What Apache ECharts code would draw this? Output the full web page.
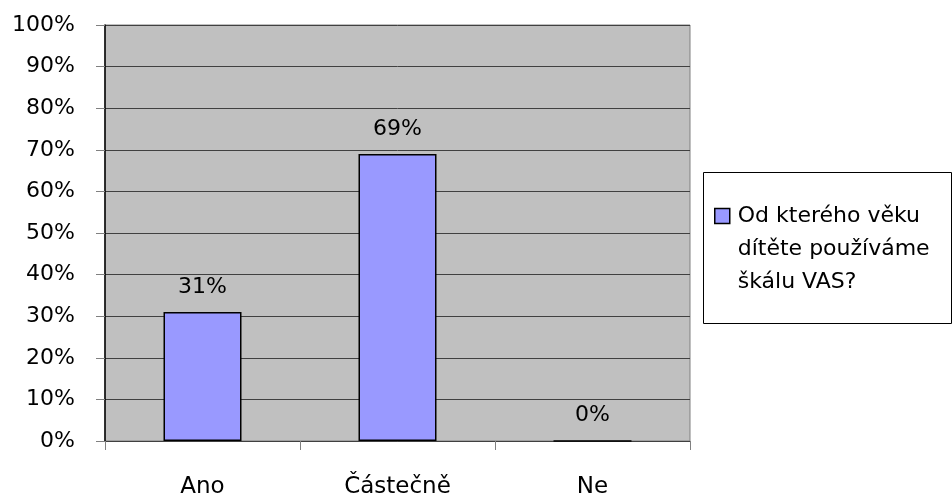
<!DOCTYPE html>
<html>
<head>
<meta charset="utf-8">
<script src="https://cdn.jsdelivr.net/npm/echarts@6/dist/echarts.min.js"></script>
<style>
  html, body { margin: 0; padding: 0; background: #fff; }
  #chart { width: 952px; height: 499px; }
</style>
</head>
<body>
<div id="chart"></div>
<script>
// Survey answers and their shares (percent)
const categories = ['Ano', 'Částečně', 'Ne'];
const shares = [31, 69, 0];
const seriesName = 'Od kterého věku\ndítěte používáme\nškálu VAS?';
const yTicks = [0, 10, 20, 30, 40, 50, 60, 70, 80, 90, 100];

const FONT = '"DejaVu Sans", sans-serif';
const LEGEND_LINE = 33;

const chart = echarts.init(document.getElementById('chart'), null, { renderer: 'canvas' });

chart.setOption({
  animation: false,
  backgroundColor: '#ffffff',
  textStyle: { fontFamily: FONT },
  grid: {
    left: 105, right: 262, top: 25, bottom: 56,
    show: true,
    backgroundColor: '#c0c0c0',
    borderColor: '#808080',
    borderWidth: 1
  },
  // frame around the legend
  graphic: [{
    type: 'rect',
    shape: { x: 703.5, y: 172.5, width: 248, height: 151 },
    style: { fill: '#ffffff', stroke: '#000000', lineWidth: 1 },
    z: 0
  }],
  legend: {
    left: 709, top: 216 - 5 - (LEGEND_LINE * 5) / 2,
    orient: 'vertical',
    itemWidth: 15, itemHeight: 15,
    icon: 'rect',
    // two blank lines on top keep the swatch level with the first text line
    formatter: () => '\n\n' + seriesName,
    textStyle: {
      fontFamily: FONT, fontSize: 22, color: '#000',
      lineHeight: LEGEND_LINE, padding: [0, 0, 0, 3]
    },
    itemStyle: { borderColor: '#000', borderWidth: 1.5 }
  },
  xAxis: {
    type: 'category',
    data: categories,
    axisLine: { show: true, lineStyle: { color: '#404040', width: 1 } },
    axisTick: { show: true, alignWithLabel: false, length: 9, lineStyle: { color: '#808080' } },
    axisLabel: { fontFamily: FONT, fontSize: 23, color: '#000', margin: 35 },
    splitLine: { show: false }
  },
  yAxis: {
    type: 'value',
    min: 0, max: 100, interval: 10,
    axisLine: { show: true, lineStyle: { color: '#000', width: 1.5 } },
    axisTick: { show: true, length: 9, inside: false, lineStyle: { color: '#808080' } },
    axisLabel: {
      fontFamily: FONT, fontSize: 22, color: '#000', margin: 30,
      formatter: v => (yTicks.includes(v) ? v + '%' : '')
    },
    splitLine: { show: true, lineStyle: { color: '#404040', width: 1 } }
  },
  series: [{
    name: seriesName,
    type: 'bar',
    data: shares,
    barWidth: '40%',
    itemStyle: { color: '#9999ff', borderColor: '#000', borderWidth: 1.5 },
    label: {
      show: true,
      position: 'top',
      distance: 14,
      fontFamily: FONT, fontSize: 22, color: '#000',
      formatter: p => p.value + '%'
    }
  }]
});
</script>
</body>
</html>
